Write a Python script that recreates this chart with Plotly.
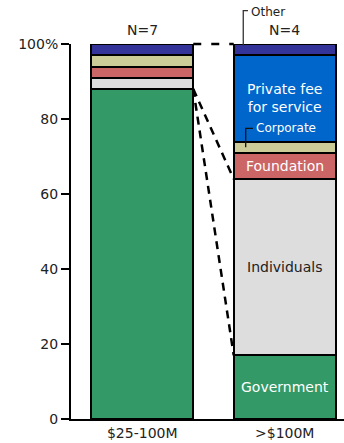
import plotly.graph_objects as go

# Revenue mix by organisation size (share of total, %)
groups = ["$25-100M", ">$100M"]
group_n = ["N=7", "N=4"]
sources = ["Government", "Individuals", "Foundation", "Corporate",
           "Private fee for service", "Other"]
small_org = [88, 3, 3, 3, None, 3]
large_org = [17, 47, 7, 3, 23, 3]
colors = ["#339966", "#DDDDDD", "#CC6666", "#CCCC99", "#0066CC", "#333399"]

FONT = "DejaVu Sans"
BAR_W = 0.716
xs = [0, 1]

fig = go.Figure()
for i, name in enumerate(sources):
    fig.add_trace(go.Bar(
        x=xs, y=[small_org[i], large_org[i]], name=name, width=BAR_W,
        marker=dict(color=colors[i], line=dict(color="black", width=2)),
        showlegend=False, hoverinfo="skip",
    ))

# cumulative tops of the large-organisation stack
tops = []
acc = 0
for v in large_org:
    acc += v or 0
    tops.append(acc)
bottoms = [t - (v or 0) for t, v in zip(tops, large_org)]
small_gov_top = small_org[0]

# in-bar labels on the right stack
inbar = [
    (0, "Government", "white"),
    (1, "Individuals", "#222222"),
    (2, "Foundation", "white"),
    (4, "Private fee<br>for service", "white"),
]
for idx, txt, col in inbar:
    fig.add_annotation(x=1, y=(tops[idx] + bottoms[idx]) / 2, text=txt,
                       showarrow=False, font=dict(family=FONT, size=14, color=col))

# Corporate call-out
corp_mid = (tops[3] + bottoms[3]) / 2
corp_lbl_y = 77.5
lx0 = 1 - BAR_W / 2 + 0.084
lx1 = lx0 + 0.051
fig.add_shape(type="path", xref="x", yref="y",
              path=f"M {lx0},{corp_mid} L {lx0},{corp_lbl_y} L {lx1},{corp_lbl_y}",
              line=dict(color="#111111", width=1.3))
fig.add_annotation(x=lx1 + 0.004, y=corp_lbl_y, text="Corporate", showarrow=False,
                   xanchor="left", yanchor="middle",
                   font=dict(family=FONT, size=12, color="white"))

# Other call-out above the right stack
ox0 = 1 - BAR_W / 2 + 0.067
ox1 = ox0 + 0.033
oy_top = 1.089
fig.add_shape(type="path", xref="x", yref="paper",
              path=f"M {ox0},{(tops[5] - 0.5) / 100} L {ox0},{oy_top} L {ox1},{oy_top}",
              line=dict(color="#333333", width=1.3))
fig.add_annotation(x=ox1 + 0.008, y=oy_top - 0.003, xref="x", yref="paper", text="Other",
                   showarrow=False, xanchor="left", yanchor="middle",
                   font=dict(family=FONT, size=12, color="#222222"))

# N labels
for x, t in zip(xs, group_n):
    fig.add_annotation(x=x, y=1.037, xref="x", yref="paper", text=t, showarrow=False,
                       yanchor="middle", font=dict(family=FONT, size=14, color="#222222"))

# dashed connectors between the stacks
dash = dict(color="black", width=2.5, dash="8px,6px")
xa, xb = BAR_W / 2, 1 - BAR_W / 2
fig.add_shape(type="line", xref="x", yref="paper", x0=xa, x1=xb, y0=1.0, y1=1.0,
              line=dict(color="black", width=2.5, dash="8px,10px"))
fig.add_shape(type="line", x0=xa, x1=xb, y0=small_gov_top, y1=tops[1], line=dash)
fig.add_shape(type="line", x0=xa, x1=xb, y0=small_gov_top, y1=tops[0], line=dash)

fig.update_layout(
    width=344, height=443, barmode="stack",
    margin=dict(l=71, r=0, t=44, b=24),
    plot_bgcolor="white", paper_bgcolor="white",
    font=dict(family=FONT, size=14, color="#222222"),
    xaxis=dict(range=[-0.5, 1.416], tickvals=xs, ticktext=groups, showgrid=False,
               zeroline=False, showline=True, linecolor="black", linewidth=2,
               ticks="", tickfont=dict(size=14)),
    yaxis=dict(range=[0, 100], tickvals=[0, 20, 40, 60, 80, 100],
               ticktext=["0", "20", "40", "60", "80", "100%"], showgrid=False,
               zeroline=False, showline=True, linecolor="black", linewidth=2,
               ticks="outside", ticklen=8, tickwidth=2, tickcolor="black",
               tickfont=dict(size=14)),
)

fig.write_html("out.html")
